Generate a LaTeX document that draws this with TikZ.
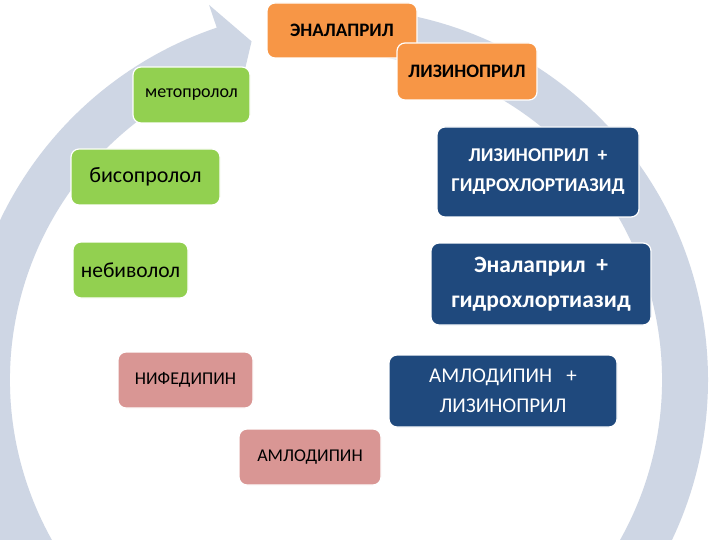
\documentclass[tikz,border=0pt]{standalone}
\usepackage{fontspec}
\setmainfont{Carlito}
\usepackage{tikz}

\definecolor{ringgray}{HTML}{CED6E4}
\definecolor{medorange}{HTML}{F79646}
\definecolor{medgreen}{HTML}{92D050}
\definecolor{medpink}{HTML}{D99694}
\definecolor{medblue}{HTML}{1F497D}

\begin{document}
\begin{tikzpicture}[x=1pt, y=1pt,
    box/.style={draw=white, line width=1.2pt, rounded corners=8pt, inner sep=0pt, align=center},
    orangebox/.style={box, fill=medorange, text=black, font=\fontsize{19}{30}\bfseries\selectfont},
    greenbox/.style={box, fill=medgreen, text=black},
    pinkbox/.style={box, fill=medpink, text=black, font=\fontsize{18}{30}\selectfont},
    bluebox/.style={box, fill=medblue, text=white}]

\useasboundingbox (0,0) rectangle (720,-540);
\fill [white] (0,0) rectangle (720,-540);

\coordinate (c) at (336,-380);

% circular arrow
\fill [ringgray, shift={(c)}] (88:372) arc (88:-251.3:372) -- (-251.3:396) -- (-256:349)
    -- (-251.3:302) -- (-251.3:326) arc (-251.3:88:326) -- cycle;

% beta blockers
\node [greenbox, minimum width=117pt, minimum height=56pt, font=\fontsize{18}{30}\selectfont] (meto) at (191.5,-95) {метопролол};
\node [greenbox, minimum width=149pt, minimum height=56pt, font=\fontsize{22}{30}\selectfont] (biso) at (145.5,-177) {бисопролол};
\node [greenbox, minimum width=115pt, minimum height=56pt, font=\fontsize{21.5}{30}\selectfont] (nebi) at (130.5,-270) {небиволол};

% calcium antagonists
\node [pinkbox, minimum width=135pt, minimum height=56pt] (nife) at (185.5,-380) {НИФЕДИПИН};
\node [pinkbox, minimum width=142pt, minimum height=56pt] (amlo) at (310,-457) {АМЛОДИПИН};

% ACE inhibitors
\node [orangebox, minimum width=150pt, minimum height=55pt] (enal) at (342,-30.5) {ЭНАЛАПРИЛ};
\node [orangebox, minimum width=140pt, minimum height=57pt] (lizi) at (467,-71.5) {ЛИЗИНОПРИЛ};

% combinations
\node [bluebox, minimum width=202pt, minimum height=90pt, font=\fontsize{19.5}{30}\bfseries\selectfont] (lizhyd) at (538,-172)
    {ЛИЗИНОПРИЛ \ +\\ГИДРОХЛОРТИАЗИД};
\node [bluebox, minimum width=220pt, minimum height=82pt, font=\fontsize{23.5}{35}\bfseries\selectfont] (enhyd) at (541,-284)
    {Эналаприл \ +\\гидрохлортиазид};
\node [bluebox, minimum width=228pt, minimum height=72pt, font=\fontsize{21}{30}\selectfont] (amliz) at (503,-391)
    {АМЛОДИПИН \ \ +\\ЛИЗИНОПРИЛ};

\end{tikzpicture}
\end{document}
